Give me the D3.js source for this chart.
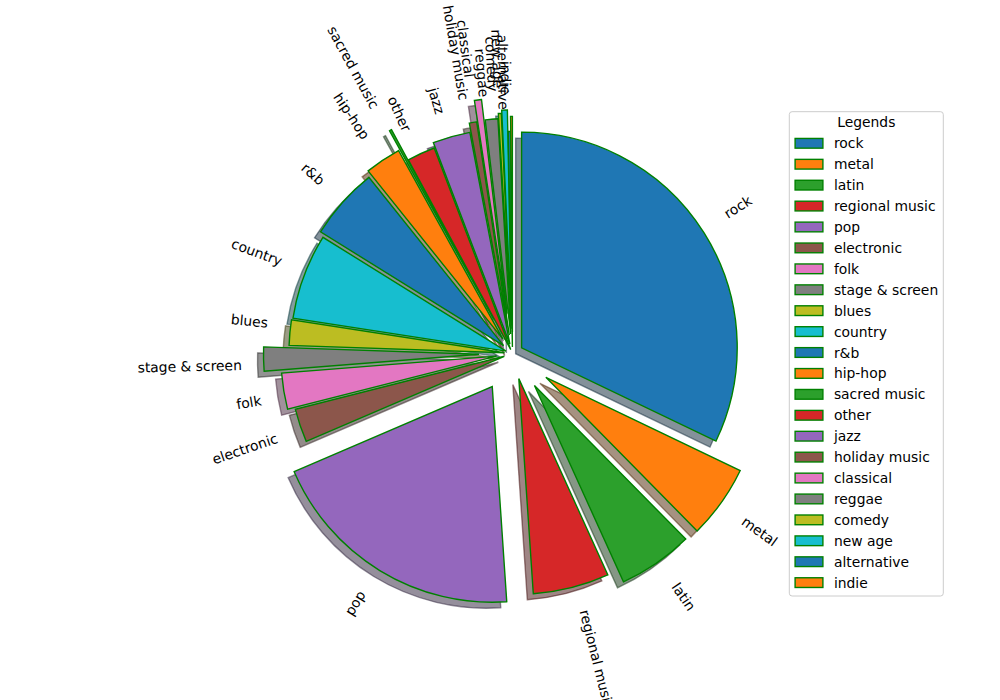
<!DOCTYPE html>
<html><head><meta charset="utf-8">
<script src="https://cdn.jsdelivr.net/npm/d3@7"></script>
<style>
body{margin:0;background:#fff}
svg{display:block}
text{font-family:"DejaVu Sans",sans-serif;fill:#000}
</style>
</head><body>
<svg id="chart" width="1000" height="700"></svg>
<script>
const categories = ["rock","metal","latin","regional music","pop","electronic","folk","stage & screen","blues","country","r&b","hip-hop","sacred music","other","jazz","holiday music","classical","reggae","comedy","new age","alternative","indie"];
const shares = [32.1,5.5,5.6,5.7,19.6,2.5,2.7,1.8,1.9,6.4,5.4,2.7,0.17,2.1,2.8,0.55,0.53,0.94,0.22,0.42,0.17,0.14];
const explode = [0.05,0.19,0.18,0.12,0.18,0.04,0.075,0.155,0.037,0.032,0.055,0.08,0.18,0.02,0.045,0.087,0.187,0.091,0.115,0.13,0.03,0.1];
const palette = ["#1f77b4","#ff7f0e","#2ca02c","#d62728","#9467bd","#8c564b","#e377c2","#7f7f7f","#bcbd22","#17becf"];
const legendTitle = "Legends";

const cx = 512.5, cy = 353.5, R = 215.6, fs = 13.89, lw = 1.39;
const svg = d3.select("#chart");
svg.append("rect").attr("width",1000).attr("height",700).attr("fill","#fff");

const color = d3.scaleOrdinal().domain(categories).range(palette);
const data = categories.map((c,i)=>({c, v:shares[i], e:explode[i]}));
const pie = d3.pie().value(d=>d.v).sort(null).startAngle(0).endAngle(2*Math.PI);
const arcs = pie(data);
const arc = d3.arc().innerRadius(0).outerRadius(R);
const mid = a => (a.startAngle + a.endAngle)/2;
const off = a => { const m = mid(a), d = a.data.e*R; return [d*Math.sin(m), -d*Math.cos(m)]; };
const shadeOf = c => { const k = d3.rgb(c); return d3.rgb(k.r*0.3, k.g*0.3, k.b*0.3).toString(); };

const g = svg.append("g").attr("transform", `translate(${cx},${cy})`);
const sh = 0.02*100/72*R;

g.selectAll("path.shadow").data(arcs).join("path")
  .attr("class","shadow")
  .attr("d", arc)
  .attr("transform", a => { const o = off(a); return `translate(${o[0]-sh},${o[1]+sh})`; })
  .attr("fill", a => shadeOf(color(a.data.c)))
  .attr("fill-opacity", 0.5)
  .attr("stroke", a => shadeOf(color(a.data.c)))
  .attr("stroke-opacity", 0.5)
  .attr("stroke-width", lw);

g.selectAll("path.wedge").data(arcs).join("path")
  .attr("class","wedge")
  .attr("d", arc)
  .attr("transform", a => { const o = off(a); return `translate(${o[0]},${o[1]})`; })
  .attr("fill", a => color(a.data.c))
  .attr("stroke", "#008000")
  .attr("stroke-width", lw)
  .attr("stroke-linejoin","miter");

// rotated labels (matplotlib rotatelabels, default rotation mode: align rotated bbox)
const asc = 0.76*fs, desc = 0.208*fs;
arcs.forEach(a => {
  const m = mid(a);
  const dist = (1.1 + a.data.e)*R;
  const xt = dist*Math.sin(m), yt = -dist*Math.cos(m);
  const isRight = Math.sin(m) > 0;
  const isUp = Math.cos(m) > 0;
  const phi = 90 - m*180/Math.PI;
  const rot = phi + (isRight ? 0 : 180);
  const t = g.append("text").attr("font-size", fs).text(a.data.c);
  const w = t.node().getComputedTextLength();
  const al = -rot*Math.PI/180;
  const ca = Math.cos(al), sa = Math.sin(al);
  const pts = [[0,-asc],[w,-asc],[0,desc],[w,desc]].map(([x,y]) => [x*ca - y*sa, x*sa + y*ca]);
  const xs = pts.map(p=>p[0]), ys = pts.map(p=>p[1]);
  const tx = isRight ? xt - d3.min(xs) : xt - d3.max(xs);
  const ty = isUp ? yt - d3.max(ys) : yt - d3.min(ys);
  t.attr("transform", `translate(${tx},${ty}) rotate(${-rot})`);
});

// legend
const lx = 789.3, ly = 111.7, lwid = 154, lht = 484.3;
const leg = svg.append("g");
leg.append("rect").attr("x",lx).attr("y",ly).attr("width",lwid).attr("height",lht)
  .attr("rx",2.8).attr("fill","#fff").attr("fill-opacity",0.8)
  .attr("stroke","#cccccc").attr("stroke-width",1);
leg.append("text").attr("x", lx + lwid/2).attr("y", 126.8).attr("text-anchor","middle")
  .attr("font-size", fs).text(legendTitle);
const ly0 = 143.3, lstep = 20.92;
const yRow = d3.scaleLinear().domain([0, categories.length-1]).range([ly0, ly0 + lstep*(categories.length-1)]);
const rows = leg.selectAll("g.row").data(categories).join("g").attr("class","row")
  .attr("transform",(d,i)=>`translate(0,${yRow(i)})`);
rows.append("rect").attr("x",795.1).attr("y",-4.86).attr("width",27.8).attr("height",9.72)
  .attr("fill", d=>color(d)).attr("stroke","#008000").attr("stroke-width",lw);
rows.append("text").attr("x",833.9).attr("y",5).attr("font-size",fs).text(d=>d);
</script>
</body></html>
